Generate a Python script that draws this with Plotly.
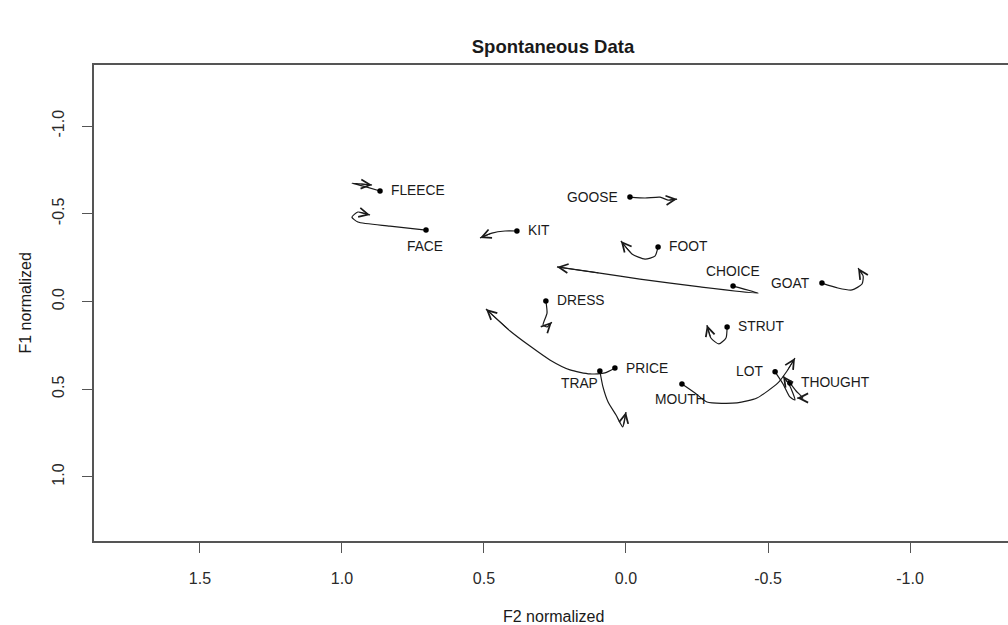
import plotly.graph_objects as go

# ---------------- data ----------------
words = ["FLEECE", "FACE", "KIT", "GOOSE", "FOOT", "CHOICE", "GOAT",
         "DRESS", "STRUT", "PRICE", "TRAP", "MOUTH", "LOT", "THOUGHT"]

# trajectories: first point = the word's onset (dot), last point = arrow tip
track_f2 = {
    "FLEECE":  [0.866, 0.915, 0.965, 0.937, 0.894],
    "FACE":    [0.704, 0.831, 0.944, 0.965, 0.944, 0.901],
    "KIT":     [0.384, 0.426, 0.472, 0.514],
    "GOOSE":   [-0.014, -0.067, -0.120, -0.148, -0.180],
    "FOOT":    [-0.113, -0.102, -0.067, -0.021, 0.018],
    "CHOICE":  [-0.377, -0.465, -0.261, -0.049, 0.092, 0.243],
    "GOAT":    [-0.690, -0.746, -0.796, -0.831, -0.835, -0.817],
    "DRESS":   [0.282, 0.278, 0.292, 0.278, 0.261],
    "STRUT":   [-0.356, -0.352, -0.327, -0.299, -0.285],
    "PRICE":   [0.039, 0.074, 0.127, 0.197, 0.268, 0.338, 0.408, 0.493],
    "TRAP":    [0.092, 0.081, 0.063, 0.035, 0.011, 0.000],
    "MOUTH":   [-0.197, -0.243, -0.285, -0.391, -0.461, -0.535, -0.567, -0.595],
    "LOT":     [-0.525, -0.553, -0.577, -0.595, -0.577, -0.553],
    "THOUGHT": [-0.577, -0.599, -0.623, -0.602],
}
track_f1 = {
    "FLEECE":  [-0.630, -0.653, -0.675, -0.670, -0.664],
    "FACE":    [-0.407, -0.430, -0.453, -0.481, -0.510, -0.493],
    "KIT":     [-0.402, -0.402, -0.390, -0.362],
    "GOOSE":   [-0.595, -0.590, -0.595, -0.578, -0.584],
    "FOOT":    [-0.311, -0.259, -0.242, -0.271, -0.345],
    "CHOICE":  [-0.088, -0.048, -0.083, -0.128, -0.162, -0.197],
    "GOAT":    [-0.105, -0.077, -0.066, -0.100, -0.145, -0.191],
    "DRESS":   [-0.003, 0.066, 0.134, 0.145, 0.117],
    "STRUT":   [0.145, 0.208, 0.242, 0.208, 0.134],
    "PRICE":   [0.379, 0.407, 0.413, 0.390, 0.333, 0.254, 0.168, 0.043],
    "TRAP":    [0.396, 0.487, 0.573, 0.647, 0.715, 0.630],
    "MOUTH":   [0.470, 0.521, 0.573, 0.578, 0.550, 0.464, 0.396, 0.322],
    "LOT":     [0.401, 0.470, 0.544, 0.561, 0.481, 0.424],
    "THOUGHT": [0.464, 0.510, 0.550, 0.550],
}

x_ticks = [1.5, 1.0, 0.5, 0.0, -0.5, -1.0]
x_ticktext = ["1.5", "1.0", "0.5", "0.0", "-0.5", "-1.0"]
y_ticks = [-1.0, -0.5, 0.0, 0.5, 1.0]
y_ticktext = ["-1.0", "-0.5", "0.0", "0.5", "1.0"]

# ---------------- styles ----------------
label_side = {
    "FLEECE": "right", "FACE": "below", "KIT": "right", "GOOSE": "left",
    "FOOT": "right", "CHOICE": "above", "GOAT": "left", "DRESS": "right",
    "STRUT": "right", "PRICE": "right", "TRAP": "belowleft", "MOUTH": "below",
    "LOT": "left", "THOUGHT": "right",
}
FONT = "Liberation Sans, Arial, sans-serif"
INK = "#1a1a1a"
FRAME = "#555555"

fig = go.Figure()

annotations = []
for w in words:
    xs, ys = track_f2[w], track_f1[w]
    fig.add_trace(go.Scatter(
        x=xs, y=ys, mode="lines",
        line=dict(color=INK, width=1.2, shape="spline", smoothing=0.6),
        hoverinfo="skip", showlegend=False))
    # open arrow head at the end of the trajectory
    annotations.append(dict(
        x=xs[-1], y=ys[-1], ax=xs[-2], ay=ys[-2],
        xref="x", yref="y", axref="x", ayref="y",
        text="", showarrow=True, arrowhead=5, arrowsize=1.8,
        arrowwidth=1.0, arrowcolor=INK, standoff=0, startstandoff=0))

# onset dots
fig.add_trace(go.Scatter(
    x=[track_f2[w][0] for w in words], y=[track_f1[w][0] for w in words],
    mode="markers", marker=dict(size=5.5, color="#000000"),
    hoverinfo="skip", showlegend=False))

# word labels
for w in words:
    side = label_side[w]
    a = dict(x=track_f2[w][0], y=track_f1[w][0], xref="x", yref="y",
             text=w, showarrow=False,
             font=dict(family=FONT, size=13.8, color=INK))
    if side == "right":
        a.update(xanchor="left", yanchor="middle", xshift=9)
    elif side == "left":
        a.update(xanchor="right", yanchor="middle", xshift=-10)
    elif side == "below":
        a.update(xanchor="center", yanchor="middle", yshift=-16, xshift=-1)
    elif side == "above":
        a.update(xanchor="center", yanchor="middle", yshift=15)
    elif side == "belowleft":
        a.update(xanchor="right", yanchor="middle", yshift=-13, xshift=0)
    annotations.append(a)

# axis titles
annotations.append(dict(text="F2 normalized", xref="paper", yref="paper",
                        x=0.503, y=-0.158, xanchor="center", yanchor="middle",
                        showarrow=False,
                        font=dict(family=FONT, size=16, color=INK)))
annotations.append(dict(text="F1 normalized", xref="paper", yref="paper",
                        x=-0.076, y=0.5, xanchor="center", yanchor="middle",
                        textangle=-90, showarrow=False,
                        font=dict(family=FONT, size=16, color=INK)))

fig.update_layout(
    width=1008, height=625,
    margin=dict(l=94, r=0, t=65, b=84),
    paper_bgcolor="white", plot_bgcolor="white",
    title=dict(text="<b>Spontaneous Data</b>", x=0.5486, xref="container",
               xanchor="center", y=1 - 47 / 625, yref="container",
               yanchor="middle",
               font=dict(family=FONT, size=18.5, color=INK)),
    annotations=annotations,
    xaxis=dict(range=[1.873, -1.345], tickvals=x_ticks, ticktext=x_ticktext,
               showgrid=False, zeroline=False, showline=True, mirror=True,
               linecolor=FRAME, linewidth=1.6, ticks="outside", ticklen=10,
               tickwidth=1.3, tickcolor=FRAME, ticklabelstandoff=12,
               tickfont=dict(family=FONT, size=16, color="#2a2a2a")),
    yaxis=dict(range=[1.365, -1.348], tickvals=y_ticks, ticktext=y_ticktext,
               showgrid=False, zeroline=False, showline=True, mirror=False,
               linecolor=FRAME, linewidth=1.6, ticks="outside", ticklen=10,
               tickwidth=1.3, tickcolor=FRAME, tickangle=-90,
               ticklabelstandoff=12,
               tickfont=dict(family=FONT, size=16, color="#2a2a2a")),
)

fig.write_html("out.html")
